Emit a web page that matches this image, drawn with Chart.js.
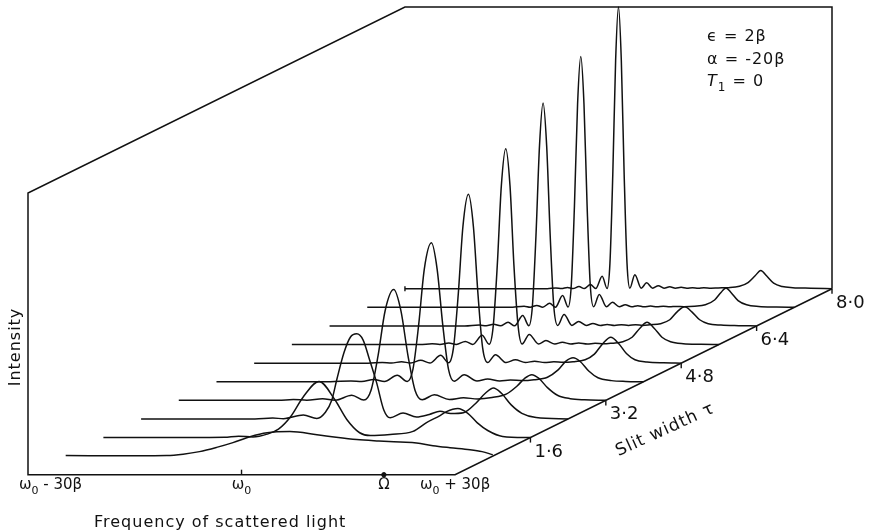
<!DOCTYPE html>
<html>
<head>
<meta charset="utf-8">
<script src="https://cdn.jsdelivr.net/npm/chart.js@4.4.1/dist/chart.umd.min.js"></script>
<style>
  html, body { margin: 0; padding: 0; background: #fff; }
  #wrap { width: 869px; height: 532px; position: relative; }
</style>
</head>
<body>
<div id="wrap"><canvas id="waterfall"></canvas></div>
<script>
// slit widths (tau) of the ten spectra, front to back
const slitWidths = [0.8, 1.6, 2.4, 3.2, 4.0, 4.8, 5.6, 6.4, 7.2, 8.0];
// labelled ticks on the slit-width axis
const slitTicks = [1.6, 3.2, 4.8, 6.4, 8.0];
const slitTickLabels = ['1·6', '3·2', '4·8', '6·4', '8·0'];
// frequency axis ticks, offset from w0 in units of beta
const freqTicks = [-30, 0, 20, 30];
const freqTickLabels = [
  [['ω'], ['0', 'sub'], [' - 30β']],
  [['ω'], ['0', 'sub']],
  [['Ω']],
  [['ω'], ['0', 'sub'], [' + 30β']],
];
const paramLines = [
  [['ϵ = 2β']],
  [['α = -20β']],
  [['T', 'it'], ['1', 'sub'], [' = 0']],
];

// spectra as [frequency offset (beta), intensity (box height = 100)]
const spec08 = [[-30,0.2],[-20,0.1],[-15.8,0.2],[-13.5,0.7],[-11.2,1.6],[-8.8,3.1],[-6.5,4.8],[-4.1,6.9],[-1.7,8.3],[1.5,8.7],[5.3,7.6],[8,6.7],[10.9,5.9],[14,5.4],[17,5.0],[19.3,4.7],[21.6,3.7],[24,3.0],[26.8,2.3],[28.5,1.6],[30,0.5]];
const spec16 = [[-30,0],[-18,0],[-13,0.1],[-11,0.5],[-9,0.2],[-7,1.2],[-5.4,3.0],[-3.7,7.4],[-1.9,14.5],[0.3,19.9],[2.5,13.5],[4.2,6.4],[6,1.7],[7.5,0.7],[10.3,1.1],[13.5,2.2],[15.4,5.3],[17.3,7.8],[18.2,9.2],[19.8,10.3],[21.2,8.6],[22.5,5.3],[24,2.5],[26.1,0.4],[30,0]];
const spec24 = [[-30,0],[-14,0],[-11.5,0.3],[-10,0.1],[-7.2,1.4],[-5.3,0.2],[-4.1,2.4],[-3.2,6.7],[-2.5,14],[-1.5,23.5],[-0.6,29],[0.3,30.2],[1.2,28],[2.1,21],[3.1,12.8],[4.1,3.2],[5,0.4],[6.8,2.1],[8.7,0.7],[10.5,1.6],[12,2.7],[13.5,1.9],[15.3,2.2],[17,5.5],[18.4,9.2],[19.5,11],[20.6,9.2],[22,5],[23.5,2],[25.5,0.5],[30,0]];
const spec32 = [[-30,0],[-16,0],[-13.9,0.3],[-12,0.05],[-9.8,0.6],[-8,0.05],[-5.7,1.8],[-4,0.1],[-3,3.5],[-2,15.9],[-1,31.9],[0.2,39.3],[1.2,31.9],[2.2,15.9],[3.2,3.5],[4.2,0.2],[5.9,2.0],[8,0.3],[10,0.9],[12,0.5],[14,1.0],[16,2.2],[17.5,5],[18.6,7.8],[19.6,9.1],[20.6,7.8],[21.8,4.5],[23.2,1.8],[25,0.6],[27,0.2],[30,0]];
const spec40 = [[-30,0],[-14,0],[-11.1,0.3],[-9.6,0.05],[-7.9,0.8],[-6.4,0.1],[-4.6,2.3],[-3.2,0.1],[-2.4,4.4],[-1.6,20],[-0.8,40],[0.2,49.3],[1.0,40],[1.8,20],[2.6,4.4],[3.4,0.2],[4.8,2.5],[6.6,0.3],[8.1,1.0],[9.8,0.3],[11.3,0.6],[13,0.4],[14.6,0.7],[16.5,1.6],[18,4.2],[19.1,7.3],[20.1,8.5],[21.1,7.2],[22.3,3.8],[23.6,1.4],[25.5,0.4],[27.5,0.1],[30,0]];
const spec48 = [[-30,0],[-14,0],[-12,0.25],[-10.7,0.05],[-9.3,0.5],[-8,0.05],[-6.6,1.0],[-5.3,0.05],[-3.8,2.8],[-2.67,0.1],[-2,5.4],[-1.33,24.3],[-0.67,48.5],[0.1,59.9],[0.8,48.5],[1.45,24.3],[2.1,5.4],[2.8,0.2],[3.9,3.0],[5.4,0.2],[6.7,1.2],[8.1,0.2],[9.4,0.7],[10.8,0.2],[12.1,0.5],[13.4,0.3],[14.8,0.5],[16.5,1.2],[17.8,3.2],[19.0,7],[20.1,9.2],[21.2,7],[22.3,3.4],[23.5,1.2],[25.2,0.4],[27.5,0.1],[30,0]];
const spec56 = [[-30,0],[-12,0],[-10.3,0.3],[-9.2,0.05],[-7.95,0.55],[-6.9,0.05],[-5.63,1.1],[-4.58,0.05],[-3.27,3.3],[-2.29,0.1],[-1.72,6.3],[-1.14,28.1],[-0.57,56.3],[0.05,69.5],[0.65,56.3],[1.2,28.1],[1.8,6.3],[2.35,0.2],[3.35,3.6],[4.65,0.2],[5.7,1.4],[6.95,0.2],[8.0,0.8],[9.2,0.2],[10.3,0.55],[11.5,0.2],[12.6,0.45],[13.8,0.25],[15,0.5],[16.5,1.0],[17.8,2.6],[18.9,5.8],[19.9,7.9],[20.9,5.8],[22,2.6],[23.2,1.0],[25,0.3],[27.5,0.1],[30,0]];
const spec64 = [[-30,0],[-11,0],[-8.96,0.35],[-8,0.05],[-6.94,0.6],[-6,0.05],[-4.92,1.3],[-4,0.05],[-2.86,3.7],[-2,0.1],[-1.5,7.1],[-1,32],[-0.5,64.1],[0,79.1],[0.5,64.1],[1,32],[1.5,7.1],[2.05,0.2],[2.95,4.1],[4.05,0.2],[5.0,1.6],[6.05,0.2],[7.0,0.85],[8.05,0.2],[9.0,0.55],[10.05,0.2],[11,0.45],[12,0.2],[13,0.4],[14,0.2],[15,0.4],[16.5,0.8],[17.8,2.2],[18.9,5.2],[19.9,6.8],[20.9,5.0],[22,2.2],[23.2,0.8],[25,0.3],[27.5,0.1],[30,0]];
const spec72 = [[-30,0],[-10,0],[-7.97,0.4],[-7.12,0.05],[-6.18,0.7],[-5.34,0.05],[-4.38,1.45],[-3.56,0.05],[-2.55,4.2],[-1.78,0.1],[-1.33,8],[-0.89,36],[-0.45,72.1],[0,89],[0.45,72.1],[0.89,36],[1.33,8],[1.8,0.2],[2.6,4.6],[3.6,0.2],[4.45,1.8],[5.4,0.2],[6.25,0.95],[7.15,0.2],[8.0,0.6],[8.9,0.2],[9.8,0.45],[10.7,0.2],[11.6,0.4],[12.5,0.2],[13.4,0.35],[14.5,0.25],[16,0.4],[17.5,0.9],[18.8,2.6],[19.7,5.3],[20.4,6.9],[21.1,5.3],[22.1,2.4],[23.3,0.9],[25,0.3],[27.5,0.1],[30,0]];
const spec80 = [[-30,0],[-10,0],[-8.8,0.3],[-8,0.05],[-7.17,0.45],[-6.4,0.05],[-5.55,0.8],[-4.8,0.05],[-3.94,1.5],[-3.2,0.1],[-2.29,4.4],[-1.6,0.1],[-1.2,9],[-0.8,40.5],[-0.4,81],[0,100],[0.4,81],[0.8,40.5],[1.2,9],[1.6,0.2],[2.3,5.0],[3.2,0.2],[3.95,2.1],[4.8,0.2],[5.6,1.1],[6.4,0.2],[7.2,0.7],[8,0.2],[8.8,0.5],[9.6,0.2],[10.4,0.4],[11.2,0.2],[12,0.35],[13,0.2],[14,0.3],[15.5,0.4],[17,0.9],[18.2,2.2],[19.2,4.6],[20,6.5],[20.8,4.6],[21.8,2.0],[23,0.8],[24.5,0.4],[27,0.2],[30,0]];
const spectra = [spec08, spec16, spec24, spec32, spec40, spec48, spec56, spec64, spec72, spec80];

const FREQ_MIN = -30, FREQ_MAX = 30, TAU_MAX = 8.0, INT_MAX = 100;

// oblique projection: each step in tau moves a trace right and up
const DEPTH_X = 6.62;   // beta per unit tau
const DEPTH_Y = 8.25;   // intensity units per unit tau
const project = (f, tau, v) => ({ x: f + tau * DEPTH_X, y: v + tau * DEPTH_Y });
const FLOOR = -4;       // a little room below the front axis for tick marks

const INK = '#111';
const FONT = '"DejaVu Sans", sans-serif';

function richText(ctx, parts, x, y, size, align) {
  const pieces = parts.map(([text, kind]) => {
    const sz = kind === 'sub' ? Math.round(size * 0.72) : size;
    const font = (kind === 'it' ? 'italic ' : '') + sz + 'px ' + FONT;
    ctx.font = font;
    return { text, font, w: ctx.measureText(text).width, dy: kind === 'sub' ? size * 0.32 : 0 };
  });
  const total = pieces.reduce((s, p) => s + p.w, 0);
  let cx = align === 'center' ? x - total / 2 : x;
  ctx.textAlign = 'left';
  ctx.textBaseline = 'alphabetic';
  pieces.forEach(p => {
    ctx.font = p.font;
    ctx.fillText(p.text, cx, y + p.dy);
    cx += p.w;
  });
}

const labelsPlugin = {
  id: 'waterfallLabels',
  afterDraw(chart) {
    const { ctx, scales: { x, y } } = chart;
    const at = (f, tau, v) => {
      const p = project(f, tau, v);
      return [x.getPixelForValue(p.x), y.getPixelForValue(p.y)];
    };
    ctx.save();
    ctx.fillStyle = INK;

    // frequency tick labels
    freqTicks.forEach((f, i) => {
      const [px, py] = at(f, 0, 0);
      if (i === 0) richText(ctx, freqTickLabels[i], px - 9, py + 14, 15, 'left');
      else richText(ctx, freqTickLabels[i], px, py + 14, 15, 'center');
    });

    // slit width tick labels
    ctx.font = '18px ' + FONT;
    ctx.textAlign = 'left';
    ctx.textBaseline = 'alphabetic';
    slitTicks.forEach((t, i) => {
      const [px, py] = at(FREQ_MAX, t, 0);
      ctx.fillText(slitTickLabels[i], px + 4, py + 19);
    });

    ctx.letterSpacing = '1px';
    // depth axis title, along the axis
    const [ax0, ay0] = at(FREQ_MAX, 0, 0);
    const [ax1, ay1] = at(FREQ_MAX, TAU_MAX, 0);
    const [mx, my] = at(FREQ_MAX, 4.46, 0);
    ctx.save();
    ctx.translate(mx, my + 59);
    ctx.rotate(Math.atan2(ay1 - ay0, ax1 - ax0) + 0.03);
    ctx.font = '17px ' + FONT;
    ctx.textAlign = 'center';
    ctx.textBaseline = 'middle';
    ctx.fillText('Slit width τ', 0, 0);
    ctx.restore();

    // intensity axis title
    ctx.save();
    ctx.translate(16, 347);
    ctx.rotate(-Math.PI / 2);
    ctx.font = '16px ' + FONT;
    ctx.textAlign = 'center';
    ctx.textBaseline = 'middle';
    ctx.fillText('Intensity', 0, 0);
    ctx.restore();

    // frequency axis title
    ctx.font = '16px ' + FONT;
    ctx.textAlign = 'left';
    ctx.textBaseline = 'alphabetic';
    ctx.fillText('Frequency of scattered light', 94, 527);

    // parameters, top right inside the box
    const [bx, by] = at(FREQ_MAX, TAU_MAX, INT_MAX);
    paramLines.forEach((parts, i) => {
      richText(ctx, parts, bx - 125, by + 34 + i * 22.5, 16, 'left');
    });
    ctx.restore();
  }
};

const traceSets = spectra.map((spec, i) => ({
  data: spec.map(([f, v]) => project(f, slitWidths[i], v)),
  showLine: true,
  borderColor: INK,
  borderWidth: 1.5,
  pointRadius: 0,
  cubicInterpolationMode: 'monotone',
  clip: false,
}));

const boxPath = [
  [FREQ_MAX, TAU_MAX, 0], [FREQ_MAX, TAU_MAX, INT_MAX], [FREQ_MIN, TAU_MAX, INT_MAX],
  [FREQ_MIN, 0, INT_MAX], [FREQ_MIN, 0, 0], [FREQ_MAX, 0, 0], [FREQ_MAX, TAU_MAX, 0],
];

const tickMarks = [
  ...slitTicks.map(t => project(FREQ_MAX, t, -0.9)),
  project(0, 0, 0.9),
  project(FREQ_MIN, TAU_MAX, 0),
];

// the scales span the whole projected box so that no trace is cut
const xMax = project(FREQ_MAX, TAU_MAX, 0).x;
const yMax = project(0, TAU_MAX, INT_MAX).y;

new Chart(document.getElementById('waterfall'), {
  type: 'scatter',
  data: {
    datasets: [
      {
        data: boxPath.map(([f, t, v]) => project(f, t, v)),
        showLine: true,
        borderColor: INK,
        borderWidth: 1.5,
        pointRadius: 0,
        tension: 0,
        clip: false,
      },
      ...traceSets,
      {
        data: tickMarks,
        pointStyle: 'line',
        rotation: 90,
        pointRadius: 2.5,
        borderColor: INK,
        borderWidth: 1.4,
        clip: false,
      },
      {
        data: [project(freqTicks[2], 0, 0)],
        pointStyle: 'circle',
        pointRadius: 2.2,
        backgroundColor: INK,
        borderColor: INK,
        clip: false,
      },
    ]
  },
  options: {
    responsive: true,
    maintainAspectRatio: false,
    animation: false,
    events: [],
    layout: { padding: { left: 28, top: 7, right: 37, bottom: 46 } },
    scales: {
      x: { type: 'linear', min: FREQ_MIN, max: xMax, display: false },
      y: { type: 'linear', min: FLOOR, max: yMax, display: false },
    },
    plugins: {
      legend: { display: false },
      tooltip: { enabled: false },
    },
  },
  plugins: [labelsPlugin],
});
</script>
</body>
</html>
